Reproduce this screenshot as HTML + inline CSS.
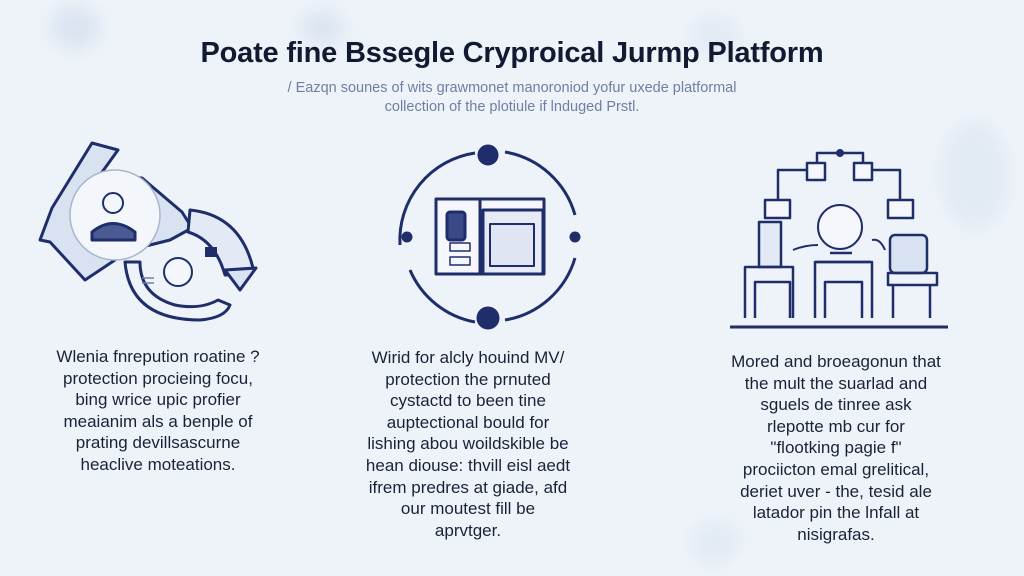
<!DOCTYPE html>
<html><head><meta charset="utf-8"><style>
html,body{margin:0;padding:0}
body{width:1024px;height:576px;overflow:hidden;position:relative;background:#eef3f9;font-family:"Liberation Sans",sans-serif}
.t{position:absolute;left:0;width:1024px;text-align:center;color:#111a30}
.col{position:absolute;text-align:center;font-size:17px;line-height:21.6px;color:#1a2238}
.blob{position:absolute;border-radius:50%;background:#dbe5f1;filter:blur(8px)}
</style></head><body>
<div class="blob" style="left:50px;top:5px;width:50px;height:45px"></div>
<div class="blob" style="left:300px;top:10px;width:45px;height:35px"></div>
<div class="blob" style="left:940px;top:120px;width:70px;height:110px;opacity:.6"></div>
<div class="blob" style="left:690px;top:15px;width:50px;height:40px;opacity:.6"></div>
<div class="blob" style="left:690px;top:520px;width:50px;height:45px;opacity:.6"></div>
<div class="t" style="top:37px;font-size:29px;font-weight:bold;letter-spacing:-0.2px">Poate fine Bssegle Cryproical Jurmp Platform</div>
<div class="t" style="top:79px;font-size:14.5px;line-height:19px;color:#6f7fa3">/ Eazqn sounes of wits grawmonet manoroniod yofur uxede platformal<br>collection of the plotiule if lnduged Prstl.</div>

<svg width="1024" height="576" style="position:absolute;left:0;top:0" fill="none" stroke="#1f2e6b" stroke-width="3" stroke-linejoin="round">
<!-- left cycle -->
<path d="M92 143 L118 150 L100 175 L142 178 L182 212 L192 228 L170 240 L130 250 L85 280 L50 242 L40 240 L52 208 Z" fill="#d9e2f1" stroke="#1f2e6b"/>
<path d="M190 210 Q240 215 253 268 L245 275 L225 275 Q215 240 188 232 Z" fill="#e4eaf5"/>
<path d="M225 270 L256 268 L240 290 Z" fill="#d9e2f1"/>
<path d="M125 262 Q130 320 200 320 Q225 318 230 305 L218 300 Q200 310 175 305 Q140 295 140 262 Z" fill="#eef2f9"/>
<circle cx="115" cy="215" r="45" stroke="#aab6cc" stroke-width="1.5" fill="#f3f6fb"/>
<circle cx="113" cy="203" r="10" stroke-width="2"/>
<path d="M92 232 Q113 215 135 232 L135 240 L92 240 Z" fill="#4a5b93"/>
<circle cx="178" cy="272" r="14" stroke-width="2" fill="#f3f6fb"/>
<rect x="205" y="247" width="12" height="10" fill="#1f2e6b" stroke="none"/>
<path d="M142 278 h12 M142 283 h12" stroke-width="1.5" stroke="#6f7fa3"/>
<!-- middle -->
<path d="M400 245 A88 88 0 0 1 475 153" />
<path d="M505 152 A88 88 0 0 1 575 215"/>
<path d="M575 258 A88 88 0 0 1 505 320"/>
<path d="M475 322 A88 88 0 0 1 410 270"/>
<circle cx="488" cy="155" r="9" fill="#1f2e6b"/>
<circle cx="488" cy="318" r="10" fill="#1f2e6b"/>
<circle cx="407" cy="237" r="4" fill="#1f2e6b"/>
<circle cx="575" cy="237" r="4" fill="#1f2e6b"/>
<rect x="436" y="199" width="108" height="75" fill="#f5f7fc"/>
<line x1="480" y1="199" x2="480" y2="274"/>
<rect x="483" y="210" width="60" height="64" fill="#e6ebf6"/>
<rect x="490" y="224" width="44" height="42" fill="#dfe5f3" stroke-width="2"/>
<rect x="447" y="212" width="18" height="28" rx="3" fill="#3a4a86"/>
<rect x="450" y="243" width="20" height="8" stroke-width="1.5"/>
<rect x="450" y="257" width="20" height="8" stroke-width="1.5"/>
<!-- right -->
<path d="M817 163 V153 H863 V163 M778 200 V170 H807 M900 200 V170 H872" stroke-width="2.5"/>
<circle cx="840" cy="153" r="2.5" fill="#1f2e6b"/>
<rect x="807" y="163" width="18" height="17" fill="#f5f7fc" stroke-width="2.5"/>
<rect x="854" y="163" width="18" height="17" fill="#f5f7fc" stroke-width="2.5"/>
<rect x="765" y="200" width="25" height="18" fill="#f5f7fc" stroke-width="2.5"/>
<rect x="888" y="200" width="25" height="18" fill="#f5f7fc" stroke-width="2.5"/>
<line x1="730" y1="327" x2="948" y2="327" stroke-width="3"/>
<rect x="759" y="222" width="22" height="45" fill="#e3e9f5" stroke-width="2.5"/>
<path d="M745 318 V267 H793 V318 M755 318 V282 H790 V318" stroke-width="2.5"/>
<path d="M815 318 V262 H872 V318 M825 318 V282 H862 V318" stroke-width="2.5"/>
<circle cx="840" cy="227" r="22" fill="#f5f7fc" stroke-width="2"/>
<path d="M830 253 H852 M815 262 H870" stroke-width="2.5"/>
<rect x="890" y="235" width="37" height="38" rx="5" fill="#d9e2f1" stroke-width="2.5"/>
<path d="M888 273 H937 V285 H888 Z M893 318 V285 M930 318 V285" stroke-width="2.5"/>
<path d="M793 250 Q805 245 818 245 M872 240 Q880 238 885 250" stroke-width="2"/>
</svg>

<div class="col" style="left:20px;width:276px;top:346px">Wlenia fnrepution roatine ?<br>protection procieing focu,<br>bing wrice upic profier<br>meaianim als a benple of<br>prating devillsascurne<br>heaclive moteations.</div>
<div class="col" style="left:340px;width:256px;top:347px">Wirid for alcly houind MV/<br>protection the prnuted<br>cystactd to been tine<br>auptectional bould for<br>lishing abou woildskible be<br>hean diouse: thvill eisl aedt<br>ifrem predres at giade, afd<br>our moutest fill be<br>aprvtger.</div>
<div class="col" style="left:700px;width:272px;top:351px">Mored and broeagonun that<br>the mult the suarlad and<br>sguels de tinree ask<br>rlepotte mb cur for<br>"flootking pagie f"<br>prociicton emal grelitical,<br>deriet uver - the, tesid ale<br>latador pin the lnfall at<br>nisigrafas.</div>
</body></html>
